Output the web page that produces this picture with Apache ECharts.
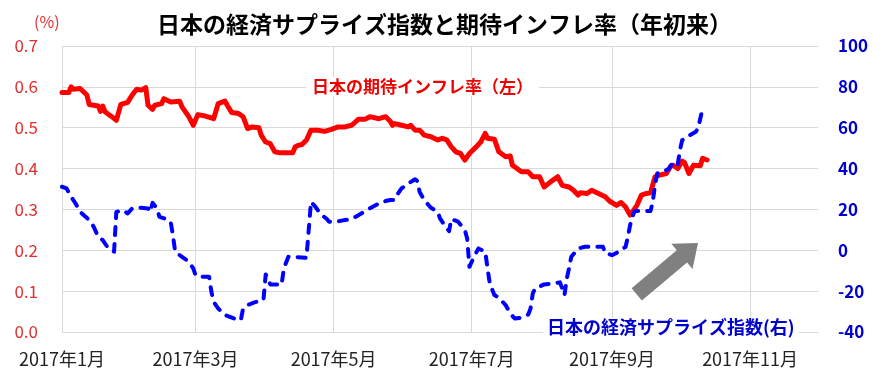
<!DOCTYPE html>
<html><head><meta charset="utf-8">
<script src="https://cdn.jsdelivr.net/npm/echarts@6/dist/echarts.min.js"></script>
<style>html,body{margin:0;padding:0;background:#fff}#c{width:889px;height:385px}</style>
</head><body><div id="c"></div>
<script>
const titleText = '日本の経済サプライズ指数と期待インフレ率（年初来）';
const leftUnit = '(%)';
const inflName = '日本の期待インフレ率（左）';
const surpName = '日本の経済サプライズ指数(右)';
const xTickMonths = [0, 2, 4, 6, 8, 10];          // month index in 2017
const xTickLabels = ['2017年1月','2017年3月','2017年5月','2017年7月','2017年9月','2017年11月'];
const leftTicks = [0, 0.1, 0.2, 0.3, 0.4, 0.5, 0.6, 0.7];
const rightTicks = [-40, -20, 0, 20, 40, 60, 80, 100];

// days since 2017-01-01
const inflDays = [0,3,4,5,8,11,12,16,17,18,19,22,24,26,29,31,33,35,37,38,40,41,44,45,48,
 52,53,56,58,60,63,67,69,72,73,75,78,80,82,84,87,88,90,92,94,96,
 102,103,104,106,108,110,113,116,119,122,125,128,131,134,136,140,143,145,
 146,147,150,153,154,156,158,160,163,166,168,170,172,174,176,178,180,183,185,187,188,191,193,
 196,198,199,201,203,206,208,211,213,216,219,221,224,226,228,229,232,234,237,240,242,
 245,247,249,251,252,254,256,258,260,262,264,267,269,270,272,274,275,277,279,282,283,285];
const inflValues = [.586,.586,.600,.594,.596,.580,.557,.553,.540,.553,.539,.527,.518,.557,.562,.580,.594,.592,.598,.555,.545,.555,.559,.571,.563,
 .565,.551,.527,.506,.532,.529,.522,.559,.565,.555,.537,.535,.527,.498,.502,.500,.482,.465,.461,.441,.439,
 .439,.453,.456,.459,.470,.494,.494,.491,.496,.502,.502,.506,.521,.521,.527,.522,.527,.516,
 .506,.510,.506,.502,.506,.494,.494,.482,.478,.470,.474,.470,.453,.441,.437,.421,.437,.453,.465,.486,.474,.472,.441,
 .429,.431,.408,.400,.392,.392,.380,.380,.355,.368,.380,.359,.355,.347,.335,.341,.339,.347,.339,.331,.320,
 .310,.317,.306,.286,.294,.310,.335,.339,.341,.380,.384,.388,.407,.408,.400,.418,.415,.388,.408,.407,.425,.421];

const surpDays = [0,2,4,6,8,12,14,16,18,20,23,24,27,29,31,35,38,39,40,42,43,46,48,
 49,50,53,56,58,59,61,65,66,67,69,72,76,79,80,82,85,89,90,91,92,96,
 97,98,100,102,108,110,112,114,117,118,121,125,128,131,134,136,140,143,145,
 147,148,150,153,156,157,158,160,163,166,167,169,171,172,175,178,179,180,182,184,187,188,189,191,193,
 196,198,200,203,206,207,208,209,213,217,220,221,222,223,224,225,228,231,235,239,240,242,
 243,246,249,250,251,252,253,257,260,261,262,263,265,268,270,272,273,274,276,280,281,282,283];
const surpValues = [31.1,30.3,26.2,22.9,18.8,14.8,11.5,6.6,5.0,1.7,-0.7,18.8,19.6,18.0,20.5,20.8,20.5,18.8,23.2,20.5,16.4,15.3,14.0,
 7.4,-0.7,-3.2,-5.6,-8.9,-12.2,-13,-13,-20.3,-25.2,-28.5,-31.7,-33.4,-34.2,-28.5,-26.8,-25.5,-24.4,-11.8,-13.8,-16.7,-16.7,
 -17,-8.9,-3.2,-3.2,-3.7,23.7,21.3,18,15.3,14,14,14.8,15.3,17.2,19.2,20.5,22.9,24.1,24.6,
 24.6,27,30.3,32.7,34.8,33.8,28.6,24.6,20.8,18.8,15.6,12.3,9.4,15.3,14,9.9,5.8,-8.1,-3.2,0.9,-0.7,-8.9,-16.2,-21.9,-23.2,
 -26.8,-30.9,-33.4,-33,-31.4,-28.5,-21.1,-18.7,-16.7,-16.2,-15.7,-18.7,-21.9,-13.8,-8.9,-3.2,0.9,1.7,1.7,1.7,-1.5,-2,
 -2.4,-0.7,1.7,6.6,12.3,16.4,19.2,19.2,19.2,23.7,31.9,37.6,38.4,39.7,43,41.7,49,53.9,55.5,58,59.6,64.5,69.4];

// x axis measured in days since 2017-01-01
const DAY_MS = 86400000;
const dayOfMonthStart = m => Math.round((Date.UTC(2017, m, 1) - Date.UTC(2017, 0, 1)) / DAY_MS);
const tickDays = xTickMonths.map(dayOfMonthStart);
const xMaxDay = dayOfMonthStart(11);
const labelOf = {};
tickDays.forEach((t, i) => labelOf[t] = xTickLabels[i]);

const FONT = '"Noto Sans CJK JP", "Noto Sans", sans-serif';
const RED = '#ff0000', BLUE = '#0000ff';

// arrow decoration
function arrowPoints(tip, dir, len, headLen, headHalf, shaftHalf) {
  const ux = dir[0], uy = dir[1];
  const nx = -uy, ny = ux;
  const bx = tip[0] - headLen * ux, by = tip[1] - headLen * uy;
  const cx = tip[0] - len * ux, cy = tip[1] - len * uy;
  return [
    tip,
    [bx + headHalf * nx, by + headHalf * ny],
    [bx + shaftHalf * nx, by + shaftHalf * ny],
    [cx + shaftHalf * nx, cy + shaftHalf * ny],
    [cx - shaftHalf * nx, cy - shaftHalf * ny],
    [bx - shaftHalf * nx, by - shaftHalf * ny],
    [bx - headHalf * nx, by - headHalf * ny]
  ];
}

const chart = echarts.init(document.getElementById('c'));
chart.setOption({
  animation: false,
  backgroundColor: '#fff',
  title: {
    text: titleText, left: 'center', top: 8,
    textStyle: { fontFamily: FONT, fontSize: 23, fontWeight: 'bold', color: '#000' }
  },
  grid: { left: 62, right: 71, top: 46, bottom: 53 },
  xAxis: {
    type: 'value',
    min: 0,
    max: xMaxDay,
    axisLine: { show: true, onZero: false, lineStyle: { color: '#d9d9d9' } },
    axisTick: { show: false, customValues: tickDays },
    axisLabel: {
      customValues: tickDays, showMinLabel: true, showMaxLabel: true,
      margin: 18, color: '#222', fontFamily: FONT, fontSize: 18,
      formatter: v => labelOf[v] || ''
    },
    splitLine: { show: true, lineStyle: { color: '#d9d9d9', width: 1 } }
  },
  yAxis: [{
    type: 'value', min: 0, max: 0.7, interval: 0.1, position: 'left',
    axisLine: { show: false }, axisTick: { show: false },
    axisLabel: { margin: 24, color: '#e03030', fontFamily: FONT, fontSize: 17, formatter: v => v.toFixed(1) },
    splitLine: { show: true, lineStyle: { color: '#d9d9d9', width: 1 } }
  }, {
    type: 'value', min: -40, max: 100, interval: 20, position: 'right',
    axisLine: { show: false }, axisTick: { show: false },
    axisLabel: { margin: 20, color: '#0000cc', fontFamily: FONT, fontSize: 17, fontWeight: 'bold' },
    splitLine: { show: false }
  }],
  series: [{
    name: inflName, type: 'line', yAxisIndex: 0, showSymbol: false, symbol: 'none',
    data: inflDays.map((d, i) => [d, inflValues[i]]),
    lineStyle: { color: RED, width: 5, join: 'round', cap: 'round' }
  }, {
    name: surpName, type: 'line', yAxisIndex: 1, showSymbol: false, symbol: 'none',
    data: surpDays.map((d, i) => [d, surpValues[i]]),
    lineStyle: { color: BLUE, width: 4, type: [8, 9], cap: 'round', join: 'round' }
  }],
  graphic: [
    { type: 'text', left: 34, top: 14, z: 100,
      style: { text: leftUnit, fill: '#e03030', font: '16px ' + FONT } },
    { type: 'text', left: 306, top: 77, z: 100,
      style: { text: inflName, fill: '#ee0000', font: 'bold 17px ' + FONT, backgroundColor: '#fff', padding: [1, 6] } },
    { type: 'text', left: 543, top: 317, z: 100,
      style: { text: surpName, fill: '#0000cc', font: 'bold 18px ' + FONT, backgroundColor: '#fff', padding: [1, 4] } },
    { type: 'polygon', z: 90,
      shape: { points: arrowPoints([698, 243], [0.766, -0.642], 80, 21, 16.5, 8) },
      style: { fill: '#808080' } }
  ]
});
</script></body></html>
